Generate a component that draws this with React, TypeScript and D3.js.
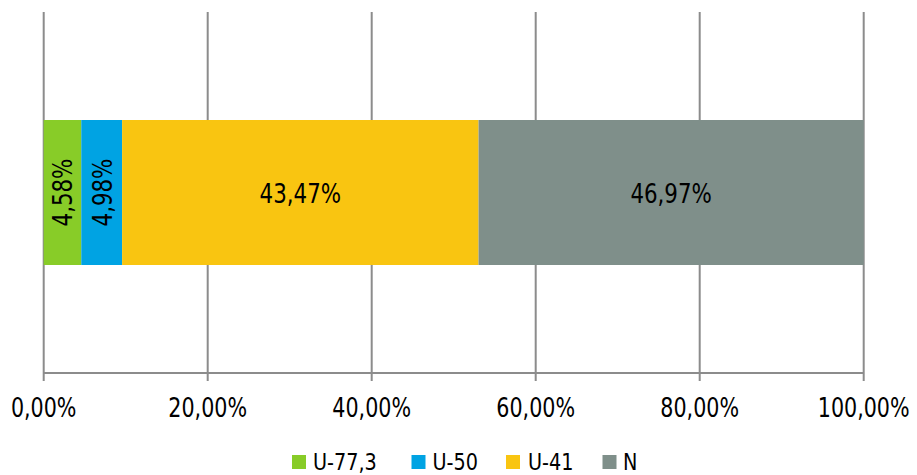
import React from "react";
import * as d3 from "d3";

const categories = ["U-77,3", "U-50", "U-41", "N"];
const values = [4.58, 4.98, 43.47, 46.97];
const colors = ["#88cc28", "#00a3e3", "#f9c511", "#7f8f8a"];
const ticks = [0, 20, 40, 60, 80, 100];

const W = 917, H = 475;
const fmt = (v: number) => v.toFixed(2).replace(".", ",") + "%";

export default function App() {
  const x = d3.scaleLinear().domain([0, 100]).range([43.7, 863.7]);
  const top = 12, axisY = 373;
  const barTop = 120, barBot = 265;
  const stacked = values.map((v, i) => ({
    start: d3.sum(values.slice(0, i)),
    end: d3.sum(values.slice(0, i + 1)),
    v, i,
  }));
  const font = "'DejaVu Sans Condensed', 'DejaVu Sans', sans-serif";
  const legendX = [292, 411.5, 506, 602.5];
  const legendTextX = [313, 432.5, 528, 623];
  const capHalf = 10;
  return (
    <svg width={W} height={H} style={{ position: "absolute", left: 0, top: 0 }} fontFamily={font}>
      <rect width={W} height={H} fill="#fff" />
      {ticks.map((t) => (
        <line key={t} x1={x(t)} x2={x(t)} y1={top} y2={381} stroke="#8c8c8c" strokeWidth={2} />
      ))}
      <line x1={x(0)} x2={x(100)} y1={axisY} y2={axisY} stroke="#8c8c8c" strokeWidth={2} />
      {stacked.map((s) => (
        <rect key={s.i} x={x(s.start)} y={barTop} width={x(s.end) - x(s.start)} height={barBot - barTop} fill={colors[s.i]} />
      ))}
      {stacked.map((s) => {
        const cx = (x(s.start) + x(s.end)) / 2;
        const cy = (barTop + barBot) / 2;
        const rotate = x(s.end) - x(s.start) < 60;
        return rotate ? (
          <text key={s.i} x={0} y={capHalf} transform={`translate(${cx},${cy}) rotate(-90) scale(0.88,1)`} textAnchor="middle" fontSize={27} fill="#000">
            {fmt(s.v)}
          </text>
        ) : (
          <text key={s.i} x={0} y={capHalf} transform={`translate(${cx},${cy}) scale(0.88,1)`} textAnchor="middle" fontSize={27} fill="#000">
            {fmt(s.v)}
          </text>
        );
      })}
      {ticks.map((t) => (
        <text key={t} x={0} y={0} transform={`translate(${x(t)},417) scale(0.85,1)`} textAnchor="middle" fontSize={27} fill="#000">
          {fmt(t)}
        </text>
      ))}
      {categories.map((c, i) => (
        <g key={c}>
          <rect x={legendX[i]} y={455} width={14} height={14} fill={colors[i]} />
          <text x={0} y={0} transform={`translate(${legendTextX[i]},470) scale(0.93,1)`} fontSize={23} fill="#000">
            {c}
          </text>
        </g>
      ))}
    </svg>
  );
}
